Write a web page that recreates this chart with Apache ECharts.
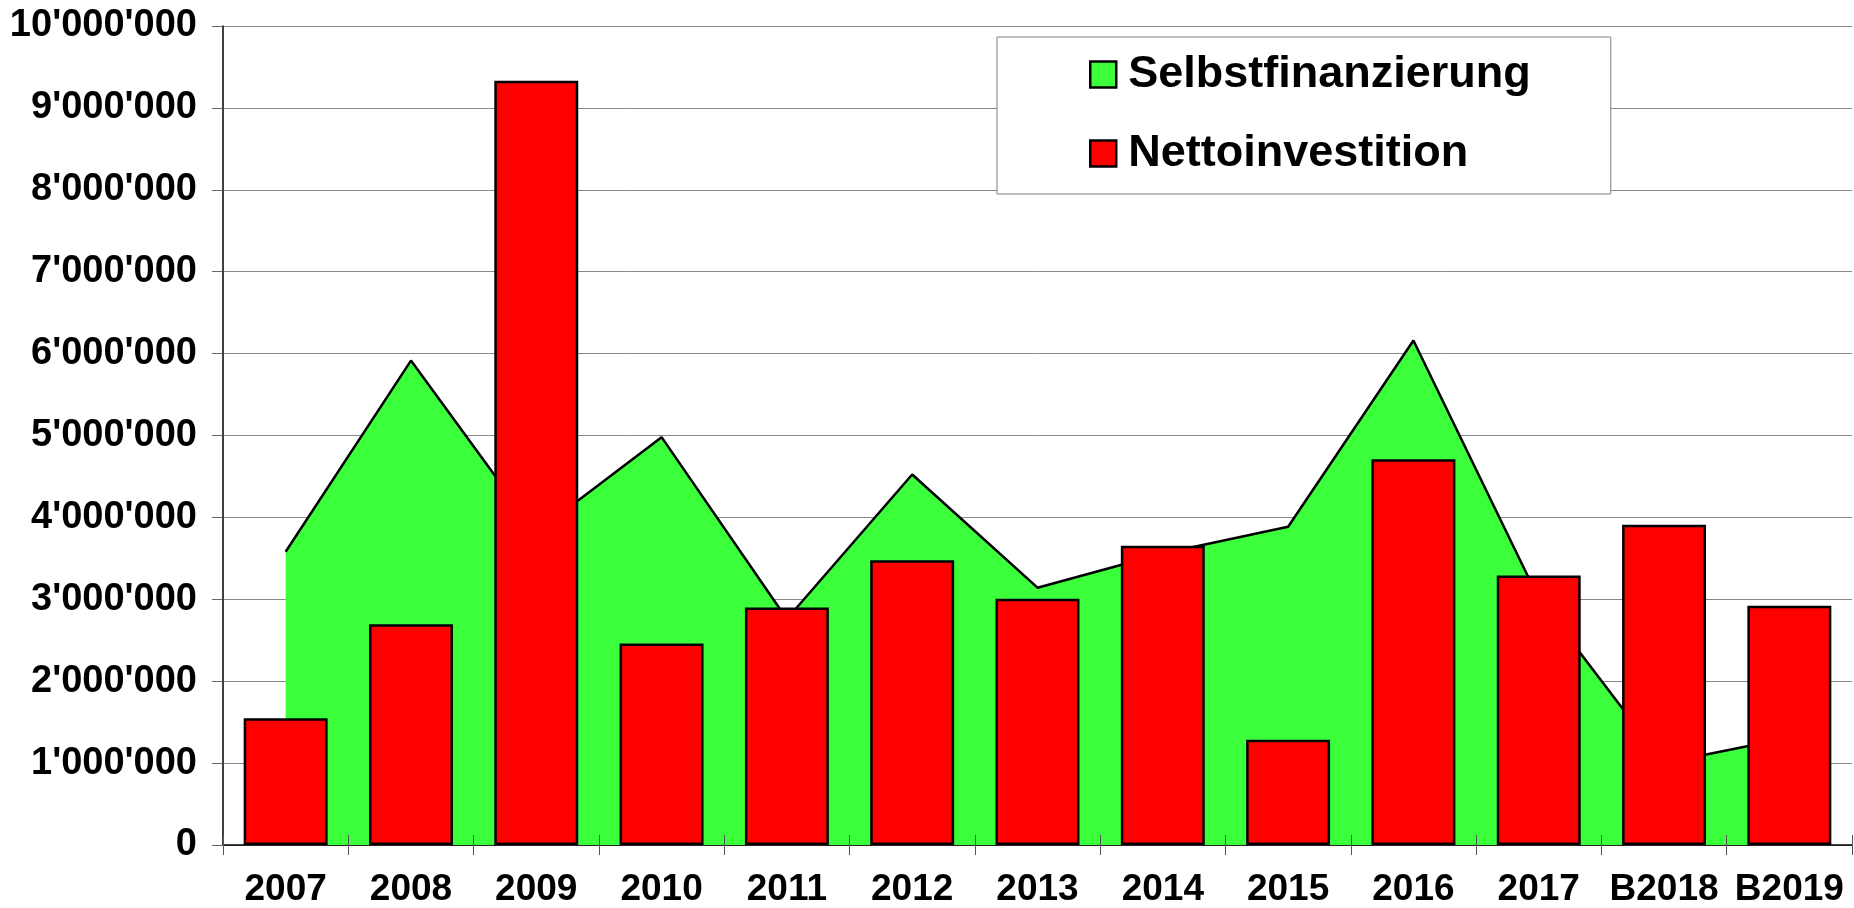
<!DOCTYPE html>
<html>
<head>
<meta charset="utf-8">
<script src="https://cdn.jsdelivr.net/npm/echarts@6/dist/echarts.min.js"></script>
<style>
html,body{margin:0;padding:0;background:#fff;}
#chart{width:1854px;height:908px;}
</style>
</head>
<body>
<div id="chart"></div>
<script>
const categories = ['2007','2008','2009','2010','2011','2012','2013','2014','2015','2016','2017','B2018','B2019'];
const selbstfinanzierung = [3580000, 5915000, 3820000, 4980000, 2760000, 4524000, 3142000, 3560000, 3886000, 6160000, 3010000, 1000000, 1310000];
const nettoinvestition = [1549000, 2695000, 9330000, 2460000, 2900000, 3476000, 3008000, 3654000, 1285000, 4711000, 3290000, 3910000, 2920000];
const yMin = 0, yMax = 10000000, yStep = 1000000;

const green = '#3cff3c';
const red = '#ff0000';
const fmt = v => String(v).replace(/\B(?=(\d{3})+(?!\d))/g, "'");

const chart = echarts.init(document.getElementById('chart'));
chart.setOption({
  animation: false,
  backgroundColor: '#ffffff',
  grid: { left: 223, right: 2, top: 26, bottom: 61.5, containLabel: false },
  legend: {
    orient: 'vertical',
    left: 997, top: 37,
    backgroundColor: '#ffffff',
    borderColor: '#808080', borderWidth: 1,
    padding: [15, 80, 18, 92],
    itemGap: 34, itemWidth: 26, itemHeight: 26,
    textStyle: { fontFamily: 'Liberation Sans, Arial, sans-serif', fontWeight: 'bold', fontSize: 45, lineHeight: 45, color: '#000', padding: [0, 0, 0, 7] },
    data: [
      { name: 'Selbstfinanzierung', icon: 'rect', itemStyle: { color: green, borderColor: '#000', borderWidth: 2.5 } },
      { name: 'Nettoinvestition', icon: 'rect', itemStyle: { color: red, borderColor: '#000', borderWidth: 2.5 } }
    ]
  },
  xAxis: [{
    type: 'category',
    data: categories,
    boundaryGap: true,
    axisLine: { lineStyle: { color: '#000', width: 1.5 } },
    axisTick: { show: true, length: 10, alignWithLabel: false, lineStyle: { color: '#555' } },
    axisLabel: { interval: 0, margin: 26, color: '#000', fontFamily: "'Liberation Sans Narrow', 'Arial Narrow', 'Liberation Sans', sans-serif", fontWeight: 'bold', fontSize: 37, lineHeight: 37 },
    splitLine: { show: false }
  }, {
    type: 'category',
    data: categories,
    position: 'bottom',
    boundaryGap: true,
    z: 10,
    axisLine: { show: false },
    axisTick: { show: true, inside: true, length: 10, lineStyle: { color: '#555' } },
    axisLabel: { show: false },
    splitLine: { show: false }
  }],
  yAxis: {
    type: 'value',
    min: yMin, max: yMax, interval: yStep,
    axisLine: { show: true, lineStyle: { color: '#000', width: 1.5 } },
    axisTick: { show: true, length: 11, lineStyle: { color: '#666' } },
    axisLabel: { formatter: fmt, margin: 26, color: '#000', fontFamily: 'Liberation Sans, Arial, sans-serif', fontWeight: 'bold', fontSize: 38 },
    splitLine: { show: true, lineStyle: { color: '#888', width: 1 } }
  },
  series: [{
    name: 'Selbstfinanzierung',
    type: 'line',
    data: selbstfinanzierung,
    showSymbol: false,
    symbol: 'none',
    itemStyle: { color: green },
    lineStyle: { color: '#000', width: 2.5 },
    areaStyle: { color: green, opacity: 1 },
    z: 2
  }, {
    name: 'Nettoinvestition',
    type: 'bar',
    data: nettoinvestition,
    barCategoryGap: '33%',
    itemStyle: { color: red, borderColor: '#000', borderWidth: 2.5 },
    z: 3
  }]
});
</script>
</body>
</html>
